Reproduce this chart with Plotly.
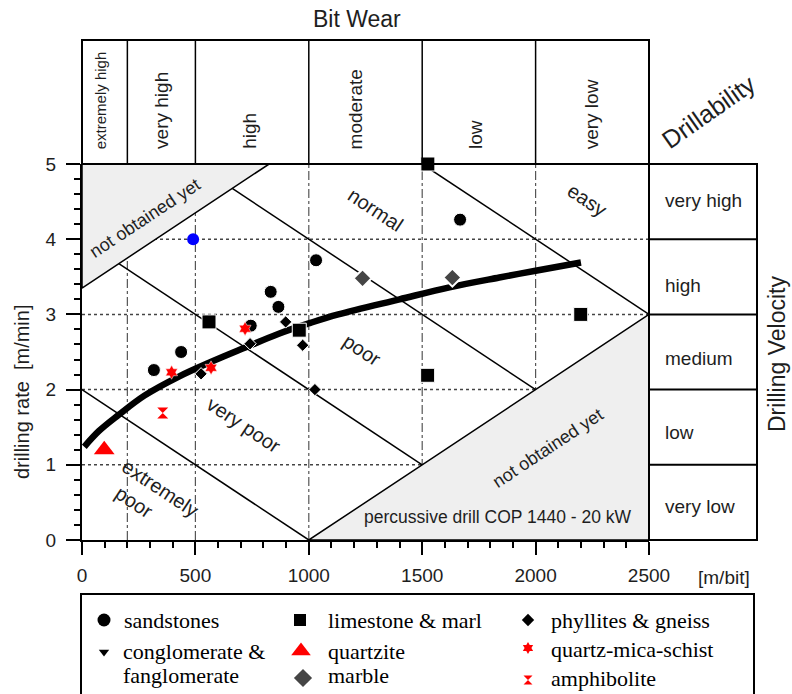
import plotly.graph_objects as go

# ---- figure geometry (pixels) ----
W, H = 792, 694
PLOT_L, PLOT_R, PLOT_T, PLOT_B = 82, 649, 164, 540
HEADER_TOP = 40
RIGHT_BOX_R = 757
X_MAX, Y_MAX = 2500, 5


def px_x(p):
    return p / W


def px_y(p):
    return 1 - p / H


# ---- measured data ----
sand_x = [317, 437, 744, 832, 866, 1032, 1667]
sand_y = [2.26, 2.50, 2.85, 3.30, 3.10, 3.72, 4.26]

lime_x = [1525, 560, 958, 1524, 2199]
lime_y = [5.0, 2.90, 2.79, 2.19, 3.0]

phyl_x = [525, 741, 898, 973, 1027]
phyl_y = [2.21, 2.61, 2.90, 2.59, 2.00]

marble_x = [1237, 1633]
marble_y = [3.48, 3.49]

schist_x = [395, 569, 719]
schist_y = [2.23, 2.29, 2.81]

quartzite_x = [98]
quartzite_y = [1.20]

amph_x = [356]
amph_y = [1.69]

other_x = [490]
other_y = [4.0]

trend_x = [10, 75, 160, 275, 425, 570, 720, 865, 1010, 1130, 1400, 1620, 1840, 2000, 2200]
trend_y = [1.24, 1.45, 1.66, 1.92, 2.17, 2.37, 2.56, 2.74, 2.89, 3.00, 3.20, 3.36, 3.49, 3.58, 3.69]

# drillability class boundaries (slope -0.002 m/min per m/bit)
bound_lines = [
    ([0, 1000], [2.0, 0.0]),
    ([162.5, 1500], [3.675, 1.0]),
    ([662.5, 2000], [4.675, 2.0]),
    ([1500, 2500], [5.0, 3.0]),
]
# regions not covered by the data
upper_void_x = [0, 825, 0, 0]
upper_void_y = [5, 5, 3.35, 5]
lower_void_x = [1000, 2500, 2500, 1000]
lower_void_y = [0, 3, 0, 0]

# bit wear classes
wear_bounds = [200, 500, 1000, 1500, 2000]
wear_labels = ["extremely high", "very high", "high", "moderate", "low", "very low"]
wear_label_x = [85, 350, 740, 1210, 1735, 2250]

# drilling velocity classes
velocity_bounds = [1, 2, 3, 4]
velocity_labels = ["very low", "low", "medium", "high", "very high"]
velocity_label_y = [0.44, 1.43, 2.42, 3.39, 4.52]

x_ticks = [0, 500, 1000, 1500, 2000, 2500]
y_ticks = [0, 1, 2, 3, 4, 5]

SANS = "Liberation Sans, Arial, sans-serif"
SERIF = "Liberation Serif, Times New Roman, serif"
INK = "#1e1e1e"

fig = go.Figure()

# voids
for vx, vy in [(upper_void_x, upper_void_y), (lower_void_x, lower_void_y)]:
    fig.add_trace(go.Scatter(x=vx, y=vy, mode="lines", fill="toself",
                             fillcolor="#efefef", line=dict(color="black", width=1.5),
                             hoverinfo="skip", showlegend=False))

# class boundaries
for bx, by in bound_lines:
    fig.add_trace(go.Scatter(x=bx, y=by, mode="lines",
                             line=dict(color="black", width=1.5),
                             hoverinfo="skip", showlegend=False))

# trend
fig.add_trace(go.Scatter(x=trend_x, y=trend_y, mode="lines",
                         line=dict(color="black", width=6.5, shape="spline"),
                         showlegend=False))

edge = dict(color="white", width=1)
series = [
    (sand_x, sand_y, "circle", "black", 13, edge),
    (lime_x, lime_y, "square", "black", 14, edge),
    (phyl_x, phyl_y, "diamond", "black", 9.5, edge),
    (marble_x, marble_y, "diamond", "#454545", 14, dict(color="white", width=2)),
    (schist_x, schist_y, "hexagram", "#ff0000", 10.5, dict(color="white", width=0.5)),
    (quartzite_x, quartzite_y, "triangle-up", "#ff0000", 18, dict(width=0)),
    (amph_x, amph_y, "hourglass", "#ff0000", 11, dict(width=0)),
    (other_x, other_y, "circle", "#0000ff", 12, dict(width=0)),
]
for sx, sy, sym, col, sz, ln in series:
    fig.add_trace(go.Scatter(x=sx, y=sy, mode="markers", cliponaxis=False,
                             marker=dict(symbol=sym, color=col, size=sz, line=ln),
                             showlegend=False))

# ---- legend (pixel-coordinate overlay) ----
legend_items = [
    ("circle", "black", 13, 104, 620, ["sandstones"], 123, [620]),
    ("triangle-down", "black", 9, 104, 652, ["conglomerate &", "fanglomerate"], 122, [651, 675]),
    ("square", "black", 12, 300, 620, ["limestone & marl"], 327, [620]),
    ("triangle-up", "#ff0000", 17, 301, 651, ["quartzite"], 327, [651]),
    ("diamond", "#454545", 14, 303, 678, ["marble"], 327, [675]),
    ("diamond", "black", 9.5, 528, 620, ["phyllites & gneiss"], 550, [620]),
    ("hexagram", "#ff0000", 9, 528, 648, ["quartz-mica-schist"], 550, [649]),
    ("hourglass", "#ff0000", 9, 528, 680, ["amphibolite"], 550, [678]),
]
annotations = []
for sym, col, sz, mx, my, texts, tx, tys in legend_items:
    fig.add_trace(go.Scatter(x=[mx], y=[my], mode="markers", xaxis="x2", yaxis="y2",
                             marker=dict(symbol=sym, color=col, size=sz, line=dict(width=0)),
                             cliponaxis=False, hoverinfo="skip", showlegend=False))
    for t, ty in zip(texts, tys):
        annotations.append(dict(text=t, xref="paper", yref="paper", x=px_x(tx), y=px_y(ty),
                                xanchor="left", yanchor="middle", showarrow=False, borderpad=0,
                                font=dict(family=SERIF, size=22, color="black")))

shapes = []
# grid
for gx in wear_bounds:
    shapes.append(dict(type="line", xref="x", yref="y", x0=gx, x1=gx, y0=0, y1=Y_MAX,
                       line=dict(color="#555555", width=1.2, dash="dashdot"), layer="below"))
for gy in velocity_bounds:
    shapes.append(dict(type="line", xref="x", yref="y", x0=0, x1=X_MAX, y0=gy, y1=gy,
                       line=dict(color="#444444", width=1.5, dash="dot"), layer="below"))
# bit wear header
shapes.append(dict(type="rect", xref="x domain", yref="paper", x0=0, x1=1,
                   y0=px_y(PLOT_T), y1=px_y(HEADER_TOP), line=dict(color="black", width=2)))
for gx in wear_bounds:
    shapes.append(dict(type="line", xref="x", yref="paper", x0=gx, x1=gx,
                       y0=px_y(PLOT_T), y1=px_y(HEADER_TOP), line=dict(color="black", width=1.5)))
# drilling velocity box
right_dom = (RIGHT_BOX_R - PLOT_L) / (PLOT_R - PLOT_L)
shapes.append(dict(type="rect", xref="x domain", yref="y domain", x0=1, x1=right_dom,
                   y0=0, y1=1, line=dict(color="black", width=2)))
for gy in velocity_bounds:
    shapes.append(dict(type="line", xref="x domain", yref="y", x0=1, x1=right_dom,
                       y0=gy, y1=gy, line=dict(color="black", width=2)))
# legend frame
shapes.append(dict(type="rect", xref="paper", yref="paper", x0=px_x(81), x1=px_x(754),
                   y0=px_y(710), y1=px_y(594), line=dict(color="black", width=2)))

# header labels
for lab, lx in zip(wear_labels, wear_label_x):
    annotations.append(dict(text=lab, xref="x", yref="paper", x=lx, y=px_y(151),
                            xanchor="center", yanchor="bottom", textangle=-90, showarrow=False,
                            font=dict(family=SANS, size=15 if lab == "extremely high" else 19,
                                      color=INK)))
# velocity labels
for lab, ly in zip(velocity_labels, velocity_label_y):
    annotations.append(dict(text=lab, xref="paper", yref="y", x=px_x(663), y=ly,
                            xanchor="left", yanchor="middle", showarrow=False,
                            font=dict(family=SANS, size=19, color=INK)))

# region labels inside the chart
ang = 33.5
region_labels = [
    ("not obtained yet", 278, 4.28, -ang, 18),
    ("normal", 1296, 4.39, ang, 20),
    ("easy", 2227, 4.52, ang, 20),
    ("poor", 1235, 2.53, ang, 20),
    ("very poor", 714, 1.53, ang, 20),
    ("extremely", 344, 0.69, ang, 20),
    ("poor", 229, 0.505, ang, 20),
    ("not obtained yet", 2055, 1.22, -ang, 18),
    ("percussive drill COP 1440 - 20 kW", 1834, 0.31, 0, 17.5),
]
for t, x, y, a, s in region_labels:
    annotations.append(dict(text=t, xref="x", yref="y", x=x, y=y, textangle=a,
                            xanchor="center", yanchor="middle", showarrow=False,
                            font=dict(family=SANS, size=s, color=INK)))

# titles
titles = [
    ("Bit Wear", 357, 19, 0, 23),
    ("Drillability", 708, 112, -35, 25),
    ("Drilling Velocity", 777, 354, -90, 23),
    ("drilling rate\u00a0 [m/min]", 22, 392, -90, 20),
    ("[m/bit]", 724, 577, 0, 19),
]
for t, x, y, a, s in titles:
    annotations.append(dict(text=t, xref="paper", yref="paper", x=px_x(x), y=px_y(y),
                            xanchor="center", yanchor="middle", textangle=a, showarrow=False,
                            font=dict(family=SANS, size=s, color=INK)))

fig.update_layout(
    width=W, height=H, margin=dict(l=0, r=0, t=0, b=0, autoexpand=False),
    paper_bgcolor="white", plot_bgcolor="rgba(0,0,0,0)",
    showlegend=False, shapes=shapes, annotations=annotations,
    xaxis=dict(domain=[px_x(PLOT_L), px_x(PLOT_R)], range=[0, X_MAX], anchor="y",
               tickvals=x_ticks, ticks="outside", ticklen=13, tickwidth=2, tickcolor="black",
               minor=dict(dtick=100, ticks="outside", ticklen=6, tickwidth=1.5, tickcolor="black"),
               showline=True, linewidth=2, linecolor="black", showgrid=False, zeroline=False,
               tickfont=dict(family=SANS, size=19, color=INK), ticklabelstandoff=4,
               automargin=False),
    yaxis=dict(domain=[px_y(PLOT_B), px_y(PLOT_T)], range=[0, Y_MAX], anchor="x",
               tickvals=y_ticks, ticks="outside", ticklen=14, tickwidth=2, tickcolor="black",
               minor=dict(dtick=0.2, ticks="outside", ticklen=6, tickwidth=1.5, tickcolor="black"),
               showline=True, linewidth=2, linecolor="black", showgrid=False, zeroline=False,
               tickfont=dict(family=SANS, size=19, color=INK), ticklabelstandoff=6,
               automargin=False),
    xaxis2=dict(domain=[0, 1], range=[0, W], anchor="y2", visible=False),
    yaxis2=dict(domain=[0, 1], range=[H, 0], anchor="x2", visible=False),
)

fig.write_html("out.html")
